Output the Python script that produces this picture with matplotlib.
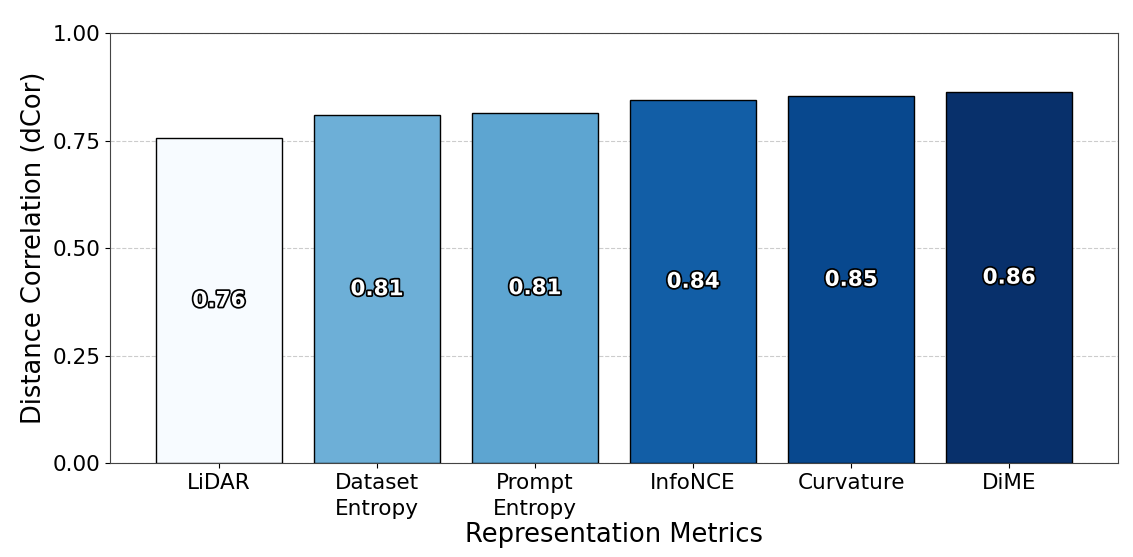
import matplotlib
matplotlib.use("Agg")
import matplotlib.pyplot as plt
import matplotlib.patheffects as pe
import numpy as np

categories = ["LiDAR", "Dataset\nEntropy", "Prompt\nEntropy", "InfoNCE", "Curvature", "DiME"]
values = [0.756, 0.809, 0.814, 0.844, 0.853, 0.863]
labels = ["0.76", "0.81", "0.81", "0.84", "0.85", "0.86"]
yticks = [0.0, 0.25, 0.5, 0.75, 1.0]

fig = plt.figure(figsize=(11.33, 5.57), dpi=100)
ax = fig.add_axes([0.097, 0.168, 0.890, 0.773])

v = np.array(values)
norm = (v - v.min()) / (v.max() - v.min())
colors = plt.cm.Blues(norm)
x = np.arange(len(categories))
bars = ax.bar(x, values, width=0.8, color=colors, edgecolor="black", linewidth=1.0, zorder=3)

for xi, val, lab in zip(x, values, labels):
    t = ax.text(xi, val / 2, lab, ha="center", va="center", fontsize=15.5,
                fontweight="bold", color="white", zorder=4)
    t.set_path_effects([pe.withStroke(linewidth=2.5, foreground="black")])

ax.set_ylim(0, 1.0)
ax.set_yticks(yticks)
ax.set_yticklabels([f"{t:.2f}" for t in yticks])
ax.set_xticks(x)
ax.set_xticklabels(categories, linespacing=1.35)
ax.tick_params(axis="both", labelsize=15.5)
ax.set_ylabel("Distance Correlation (dCor)", fontsize=18.5)
ax.set_xlabel("Representation Metrics", fontsize=18.5, labelpad=2)
ax.yaxis.grid(True, linestyle="--", color="#cccccc", linewidth=0.8, zorder=0)
ax.set_axisbelow(True)
for s in ax.spines.values():
    s.set_color("#444444")

fig.savefig("out.png", dpi=100)
